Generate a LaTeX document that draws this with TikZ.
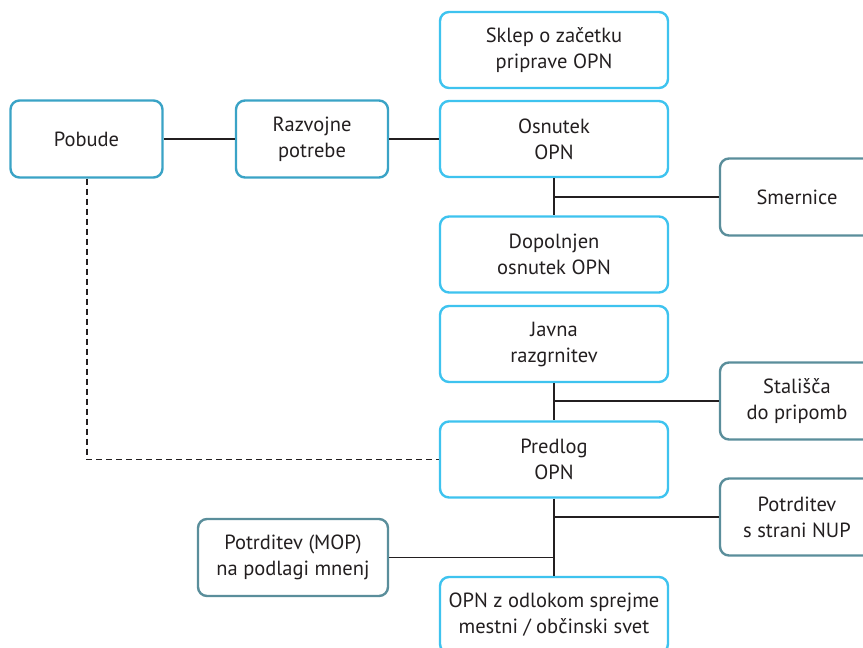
\documentclass[tikz,border=0pt]{standalone}
\usepackage{fontspec}
\setmainfont{PT Sans}
\definecolor{mainblue}{HTML}{3EC3EF}
\definecolor{sideblue}{HTML}{3AA3C6}
\definecolor{sideteal}{HTML}{5A8E9B}
\definecolor{inktext}{HTML}{231F20}
\begin{document}
\begin{tikzpicture}[x=1pt,y=-1pt,
  box/.style={draw, line width=2.4pt, rounded corners=9pt, fill=white,
    align=center, inner sep=0pt, text=inktext,
    font=\fontsize{20.5}{26}\selectfont},
  stage/.style={box, draw=mainblue, minimum width=228pt, minimum height=76pt},
  source/.style={box, draw=sideblue, minimum width=152pt, minimum height=77pt},
  input/.style={box, draw=sideteal, minimum height=77pt},
  link/.style={line width=1.9pt, draw=inktext},
  optional/.style={link, dash pattern=on 6pt off 4pt}]
\useasboundingbox (0,0) rectangle (863,648);

% main sequence
\node[stage] (sklep)    at (554,50)    {Sklep o začetku\\priprave OPN};
\node[stage] (osnutek)  at (554,139)   {Osnutek\\OPN};
\node[stage] (dopoln)   at (554,254.5) {Dopolnjen\\osnutek OPN};
\node[stage] (javna)    at (554,344)   {Javna\\razgrnitev};
\node[stage] (predlog)  at (554,459.5) {Predlog\\OPN};
\node[stage] (sprejem)  at (554,615)   {OPN z odlokom sprejme\\mestni / občinski svet};

% sources on the left
\node[source] (pobude)   at (86.5,139) {Pobude};
\node[source] (razvojne) at (312,139)  {Razvojne\\potrebe};

% inputs from the sides
\node[input, minimum width=154pt] (smernice) at (797,197)   {Smernice};
\node[input, minimum width=154pt] (stalisca) at (797,401)   {Stališča\\do pripomb};
\node[input, minimum width=154pt] (nup)      at (797,517)   {Potrditev\\s strani NUP};
\node[input, minimum width=190pt] (mop)      at (293,557.5) {Potrditev (MOP)\\na podlagi mnenj};

% junctions on the main axis
\coordinate (j1) at (554,197);
\coordinate (j2) at (554,401);
\coordinate (j3) at (554,517);
\coordinate (j4) at (554,557.5);
\coordinate (d1) at (87,459.5);

% connectors
\draw[link] (pobude) -- (razvojne);
\draw[link] (razvojne) -- (osnutek);
\draw[link] (osnutek.south) -- (dopoln.north);
\draw[link] (j1) -- (smernice.west);
\draw[link] (javna.south) -- (predlog.north);
\draw[link] (j2) -- (stalisca.west);
\draw[link] (predlog.south) -- (sprejem.north);
\draw[link] (j3) -- (nup.west);
\draw[link] (mop.east) -- (j4);
\draw[optional] (pobude.south -| d1) -- (d1) -- (predlog.west);
\end{tikzpicture}
\end{document}
